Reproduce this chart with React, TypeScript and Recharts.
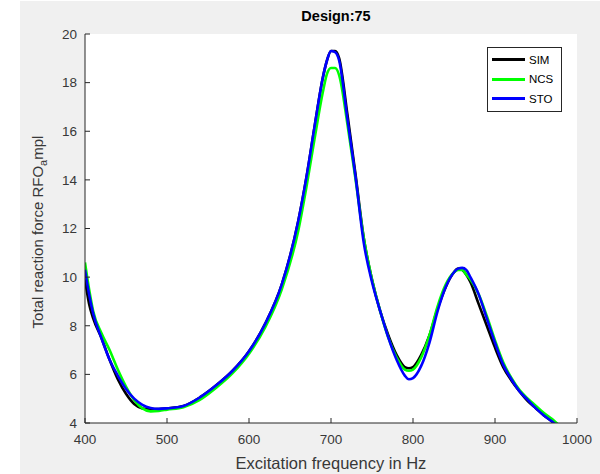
import { LineChart, Line, XAxis, YAxis, CartesianGrid, Legend } from "recharts";

const FONT = '"Liberation Sans", Arial, Helvetica, sans-serif';
const AXIS = "#262626";

// excitation frequency (Hz)
const freq = [
  400, 405, 410, 420, 430, 440, 450, 460, 470, 480, 490, 500, 520, 540, 560, 580, 600, 620, 640, 660,
  670, 680, 690, 695, 700, 705, 710, 720, 730, 740, 750, 760, 770, 780, 790, 795, 800, 810, 820, 830,
  840, 850, 855, 860, 865, 870, 880, 890, 900, 910, 920, 930, 940, 950, 960, 970, 980, 990,
];

const sim = [
  9.9, 8.9, 8.3, 7.5, 6.6, 5.8, 5.2, 4.78, 4.6, 4.57, 4.57, 4.6, 4.7, 5.05, 5.55, 6.15, 6.95, 8.1, 9.7, 12.3,
  14.1, 16.2, 18.2, 18.9, 19.3, 19.3, 19.0, 16.7, 14.2, 11.6, 9.9, 8.6, 7.6, 6.8, 6.3, 6.25, 6.3, 6.8, 7.6, 8.7,
  9.6, 10.2, 10.35, 10.3, 10.1, 9.8, 8.9, 8.0, 7.1, 6.3, 5.75, 5.3, 4.9, 4.6, 4.3, 4.05, 3.75, 3.45,
];

const ncs = [
  10.6, 9.5, 8.6, 7.7, 7.0, 6.2, 5.5, 4.95, 4.6, 4.48, 4.5, 4.55, 4.65, 4.95, 5.45, 6.05, 6.85, 7.95, 9.5, 11.9,
  13.7, 15.7, 17.6, 18.35, 18.6, 18.6, 18.3, 16.3, 14.0, 11.6, 9.9, 8.6, 7.5, 6.7, 6.2, 6.15, 6.2, 6.7, 7.6, 8.8,
  9.7, 10.2, 10.3, 10.3, 10.1, 9.9, 9.3, 8.4, 7.4, 6.5, 5.85, 5.35, 5.0, 4.7, 4.4, 4.15, 3.85, 3.55,
];

const sto = [
  10.3, 9.3, 8.5, 7.5, 6.6, 5.95, 5.4, 5.0, 4.75, 4.62, 4.58, 4.6, 4.7, 5.05, 5.55, 6.15, 6.95, 8.1, 9.7, 12.3,
  14.1, 16.2, 18.2, 18.9, 19.3, 19.25, 18.9, 16.5, 14.1, 11.4, 9.8, 8.6, 7.5, 6.6, 5.95, 5.8, 5.85, 6.35, 7.3, 8.6,
  9.6, 10.2, 10.35, 10.38, 10.3, 10.0, 9.3, 8.3, 7.3, 6.4, 5.8, 5.3, 4.95, 4.6, 4.3, 4.05, 3.75, 3.45,
];

const xTicks = [400, 500, 600, 700, 800, 900, 1000];
const yTicks = [4, 6, 8, 10, 12, 14, 16, 18, 20];

const series = [
  { key: "sim", name: "SIM", color: "#000000" },
  { key: "ncs", name: "NCS", color: "#00ff00" },
  { key: "sto", name: "STO", color: "#0000ff" },
];

const data = freq.map((f, i) => ({ f, sim: sim[i], ncs: ncs[i], sto: sto[i] }));

const PLOT_LEFT = 85;
const PLOT_BOTTOM = 423;

const XTick = (props: any) => {
  const { x, y, payload } = props;
  return (
    <g>
      <line x1={x} x2={x} y1={PLOT_BOTTOM} y2={PLOT_BOTTOM - 5} stroke={AXIS} />
      <text x={x} y={y} dy="0.71em" textAnchor="middle" fontSize={13.5} fill="#383838" fontFamily={FONT}>
        {payload.value}
      </text>
    </g>
  );
};

const YTick = (props: any) => {
  const { x, y, payload } = props;
  return (
    <g>
      <line x1={PLOT_LEFT} x2={PLOT_LEFT + 5} y1={y} y2={y} stroke={AXIS} />
      <text x={x} y={y} dy="0.355em" textAnchor="end" fontSize={13.5} fill="#383838" fontFamily={FONT}>
        {payload.value}
      </text>
    </g>
  );
};

const renderLegend = () => (
  <div
    style={{
      border: "1px solid #262626",
      background: "#fff",
      padding: "2px 4px 2px 4px",
      fontFamily: FONT,
      fontSize: 11.5,
      color: "#000",
    }}
  >
    {series.map((s) => (
      <div key={s.key} style={{ display: "flex", alignItems: "center", height: 19.5 }}>
        <span style={{ display: "inline-block", width: 33, height: 3, background: s.color, marginRight: 4 }} />
        {s.name}
      </div>
    ))}
  </div>
);

export default function App() {
  return (
    <div style={{ position: "absolute", left: 0, top: 0, width: 600, height: 474, background: "#fff" }}>
      <div style={{ position: "absolute", left: 20, top: 1, width: 580, height: 473, background: "#f0f0f0" }} />
      <div
        style={{
          position: "absolute",
          left: 90,
          width: 492,
          top: 8,
          textAlign: "center",
          fontFamily: FONT,
          fontWeight: "bold",
          fontSize: 14.5,
          color: "#000",
        }}
      >
        Design:75
      </div>
      <div style={{ position: "absolute", left: 0, top: 0 }}>
        <LineChart width={600} height={474} data={data} margin={{ top: 34, right: 23, bottom: 21, left: 45 }}>
          <CartesianGrid horizontal={false} vertical={false} fill="#ffffff" />
          <XAxis
            dataKey="f"
            type="number"
            domain={[400, 1000]}
            ticks={xTicks}
            allowDataOverflow
            height={30}
            stroke={AXIS}
            tickLine={false}
            tickMargin={5}
            tick={<XTick />}
            label={{
              content: () => (
                <text x={331} y={463} dy="0.355em" textAnchor="middle" fontSize={16.5} fill="#383838" fontFamily={FONT}>
                  Excitation frequency in Hz
                </text>
              ),
            }}
          />
          <YAxis
            type="number"
            domain={[4, 20]}
            ticks={yTicks}
            allowDataOverflow
            width={40}
            stroke={AXIS}
            tickLine={false}
            tick={<YTick />}
            label={{
              content: () => (
                <text
                  x={43}
                  y={232}
                  textAnchor="middle"
                  fontSize={15}
                  fill="#383838"
                  fontFamily={FONT}
                  transform="rotate(-90, 43, 232)"
                >
                  Total reaction force RFO
                  <tspan dy={4} fontSize={11}>a</tspan>
                  <tspan dy={-4}>mpl</tspan>
                </text>
              ),
            }}
          />
          <Legend
            layout="vertical"
            align="center"
            verticalAlign="middle"
            content={renderLegend}
            wrapperStyle={{ left: 487, top: 47, width: 75 }}
          />
          {series.map((s) => (
            <Line
              key={s.key}
              type="monotone"
              dataKey={s.key}
              name={s.name}
              stroke={s.color}
              strokeWidth={2.6}
              dot={false}
              isAnimationActive={false}
            />
          ))}
        </LineChart>
      </div>
    </div>
  );
}
